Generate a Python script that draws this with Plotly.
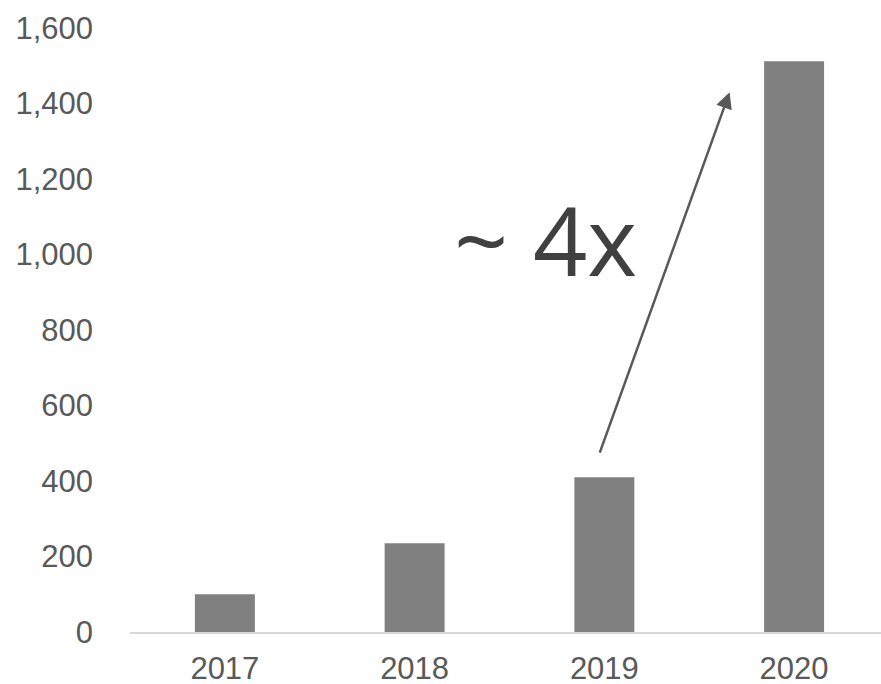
import plotly.graph_objects as go

years = ["2017", "2018", "2019", "2020"]
values = [100, 235, 410, 1512]
y_ticks = [0, 200, 400, 600, 800, 1000, 1200, 1400, 1600]
y_tick_labels = ["0", "200", "400", "600", "800", "1,000", "1,200", "1,400", "1,600"]
growth_label = "~ 4x"

fig = go.Figure()
fig.add_trace(go.Bar(
    x=years, y=values,
    marker=dict(color="#808080", line=dict(width=0)),
    hoverinfo="x+y",
))

fig.update_layout(
    width=881, height=684,
    margin=dict(l=130, r=0, t=28, b=52, autoexpand=False),
    paper_bgcolor="white", plot_bgcolor="white",
    bargap=0.684,
    showlegend=False,
    font=dict(family="Liberation Sans, Arial, sans-serif", size=31, color="#595959"),
)
fig.update_xaxes(
    type="category",
    range=[-0.5, 3.458],
    showgrid=False,
    showline=True, linecolor="#d9d9d9", linewidth=1.5,
    ticks="", ticklabelstandoff=8,
    zeroline=False, automargin=False,
)
fig.update_yaxes(
    range=[0, 1600],
    tickvals=y_ticks, ticktext=y_tick_labels,
    showgrid=False, showline=False, zeroline=False,
    ticks="", ticklabelstandoff=36, automargin=False,
)

fig.add_annotation(
    x=1.69, y=1040, xref="x", yref="y",
    text=growth_label, showarrow=False,
    font=dict(family="Open Sans, Noto Sans, sans-serif", size=95, color="#404040"),
    xanchor="center", yanchor="middle",
)
fig.add_annotation(
    x=2.66, y=1430, xref="x", yref="y",
    ax=1.973, ay=471, axref="x", ayref="y",
    text="", showarrow=True,
    arrowhead=2, arrowsize=1.3, arrowwidth=2.5, arrowcolor="#595959",
    standoff=0, startstandoff=0,
)

fig.write_html(
    "out.html",
    config={"displayModeBar": False},
    post_script="document.body.style.margin='0';document.body.style.overflow='hidden';",
)
